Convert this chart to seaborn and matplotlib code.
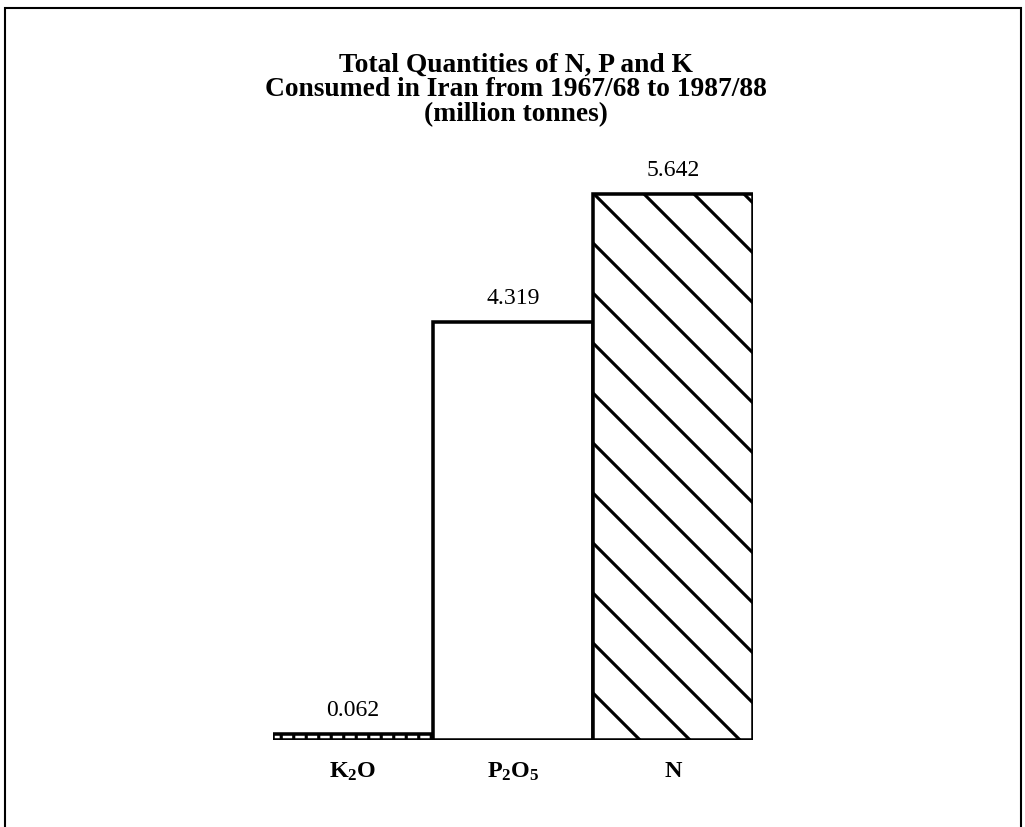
import matplotlib
matplotlib.use("Agg")
import matplotlib.pyplot as plt
import seaborn as sns
from matplotlib.patches import Rectangle

# ---- data ----
categories = ["K$_2$O", "P$_2$O$_5$", "N"]
values = [0.062, 4.319, 5.642]
value_labels = ["0.062", "4.319", "5.642"]
hatches = ["||||", "", "\\\\"]
title_lines = ["Total Quantities of N, P and K",
               "Consumed in Iran from 1967/68 to 1987/88",
               "(million tonnes)"]

sns.set_style("white")
plt.rcParams["font.family"] = ["Liberation Serif", "DejaVu Serif"]
plt.rcParams["text.color"] = "black"
plt.rcParams["xtick.color"] = "black"
plt.rcParams["xtick.labelcolor"] = "black"
plt.rcParams["mathtext.fontset"] = "custom"
plt.rcParams["mathtext.rm"] = "Liberation Serif:bold"
plt.rcParams["mathtext.it"] = "Liberation Serif:bold"
plt.rcParams["mathtext.bf"] = "Liberation Serif:bold"
plt.rcParams["hatch.linewidth"] = 0.75
plt.rcParams["hatch.color"] = "black"

DPI = 300
W, H = 1025, 827
fig = plt.figure(figsize=(W / DPI, H / DPI), dpi=DPI)
fig.patch.set_facecolor("white")

ax = fig.add_axes([273 / W, (H - 740) / H, 480 / W, 6 * 96.8 / H])

sns.barplot(x=categories, y=values, ax=ax, color="white", saturation=1,
            edgecolor="black", linewidth=0.85, width=1.0, errorbar=None)

for patch, h in zip(ax.patches, hatches):
    patch.set_hatch(h)
    patch.set_facecolor("white")
    patch.set_edgecolor("black")

ax.set_xlim(-0.5, 2.5)
ax.set_ylim(0, 6)
for s in ax.spines.values():
    s.set_visible(False)
ax.set_yticks([])
ax.set_xlabel("")
ax.set_ylabel("")
ax.tick_params(axis="x", length=0, pad=5.0, labelsize=5.8, labelcolor="black")
for lbl in ax.get_xticklabels():
    lbl.set_fontweight("bold")

ax.bar_label(ax.containers[0], labels=value_labels, padding=3.2,
             fontsize=5.7, family="Liberation Serif", color="black")

fig.text(0.5 + 3 / W, 1 - 90 / H, "\n".join(title_lines), ha="center",
         va="center", fontsize=6.6, fontweight="bold", linespacing=1.0,
         family="Liberation Serif", color="black")

# outer frame
fig.add_artist(Rectangle((5 / W, -0.05), (1021 - 5) / W, 1.05 - 8 / H,
                         transform=fig.transFigure, fill=False,
                         edgecolor="black", linewidth=0.5))

fig.savefig("out.png", dpi=DPI, facecolor="white")
